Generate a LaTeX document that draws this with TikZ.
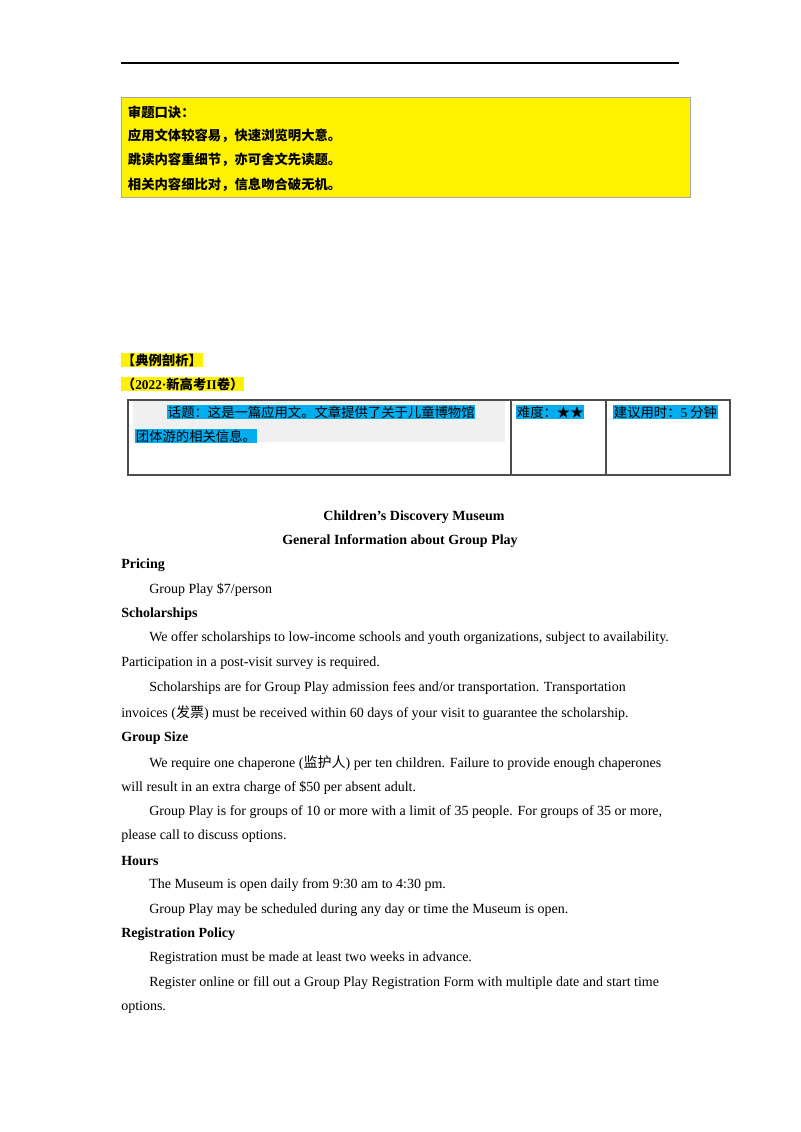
\documentclass[tikz,border=0pt]{standalone}
\usepackage{fontspec}
\setmainfont{Liberation Serif}
\newfontfamily\cjk{Noto Sans CJK SC}
\begin{document}
\begin{tikzpicture}[x=0.75pt,y=-0.75pt,
  tx/.style={anchor=west,inner sep=0pt,font=\fontsize{10.5}{12}\selectfont},
  hd/.style={tx,font=\fontsize{10.5}{12}\selectfont\bfseries},
  ck/.style={anchor=west,inner sep=0.5pt,font=\fontsize{10}{12}\selectfont\cjk},
  yl/.style={ck,fill=yellow,font=\fontsize{10}{12}\selectfont\cjk\bfseries},
  cy/.style={ck,fill=cyan}]
\useasboundingbox (0,0) rectangle (800,1132);
\draw[line width=0.8pt] (121,63) -- (679,63);
\draw[fill=yellow,draw=gray!70] (121,97) rectangle (690,197);
\node[yl] (y1) at (127,112) {审题口诀：};
\node[yl] (y2) at (127,136) {应用文体较容易，快速浏览明大意。};
\node[yl] (y3) at (127,160) {跳读内容重细节，亦可舍文先读题。};
\node[yl] (y4) at (127,185) {相关内容细比对，信息吻合破无机。};
\node[yl] (d1) at (121,360) {【典例剖析】};
\node[yl] (d2) at (121,384) {（\textrm{\bfseries 2022·}新高考\textrm{\bfseries II}卷）};
\fill[gray!12] (133,401) rectangle (505,442);
\draw[gray!60!black,line width=0.8pt] (128,400) rectangle (730,475) (511,400) -- (511,475) (606,400) -- (606,475);
\node[cy] (t1) at (167,412) {话题：这是一篇应用文。文章提供了关于儿童博物馆};
\node[cy] (t2) at (135,436) {团体游的相关信息。};
\node[cy] (t3) at (516,412) {难度：★★};
\node[cy] (t4) at (613,412) {建议用时：\textrm{5} 分钟};
\node[hd,anchor=center] (c1) at (414,517) {Children’s Discovery Museum};
\node[hd,anchor=center] (c2) at (400,541) {General Information about Group Play};
\node[hd] (h1) at (121,565) {Pricing};
\node[tx] at (149,590) {Group Play \$7/person};
\node[hd] (h2) at (121,614) {Scholarships};
\node[tx] at (149,638) {We offer scholarships to low-income schools and youth organizations, subject to availability.};
\node[tx] at (121,663) {Participation in a post-visit survey is required.};
\node[tx] at (149,688) {Scholarships are for Group Play admission fees and/or transportation. Transportation};
\node[tx] at (121,713) {invoices ({\cjk 发票}) must be received within 60 days of your visit to guarantee the scholarship.};
\node[hd] (h3) at (121,738) {Group Size};
\node[tx] at (149,763) {We require one chaperone ({\cjk 监护人}) per ten children. Failure to provide enough chaperones};
\node[tx] at (121,788) {will result in an extra charge of \$50 per absent adult.};
\node[tx] at (149,812) {Group Play is for groups of 10 or more with a limit of 35 people. For groups of 35 or more,};
\node[tx] at (121,836) {please call to discuss options.};
\node[hd] (h4) at (121,861) {Hours};
\node[tx] at (149,885) {The Museum is open daily from 9:30 am to 4:30 pm.};
\node[tx] at (149,910) {Group Play may be scheduled during any day or time the Museum is open.};
\node[hd] (h5) at (121,934) {Registration Policy};
\node[tx] at (149,958) {Registration must be made at least two weeks in advance.};
\node[tx] at (149,983) {Register online or fill out a Group Play Registration Form with multiple date and start time};
\node[tx] at (121,1007) {options.};
\end{tikzpicture}
\end{document}
